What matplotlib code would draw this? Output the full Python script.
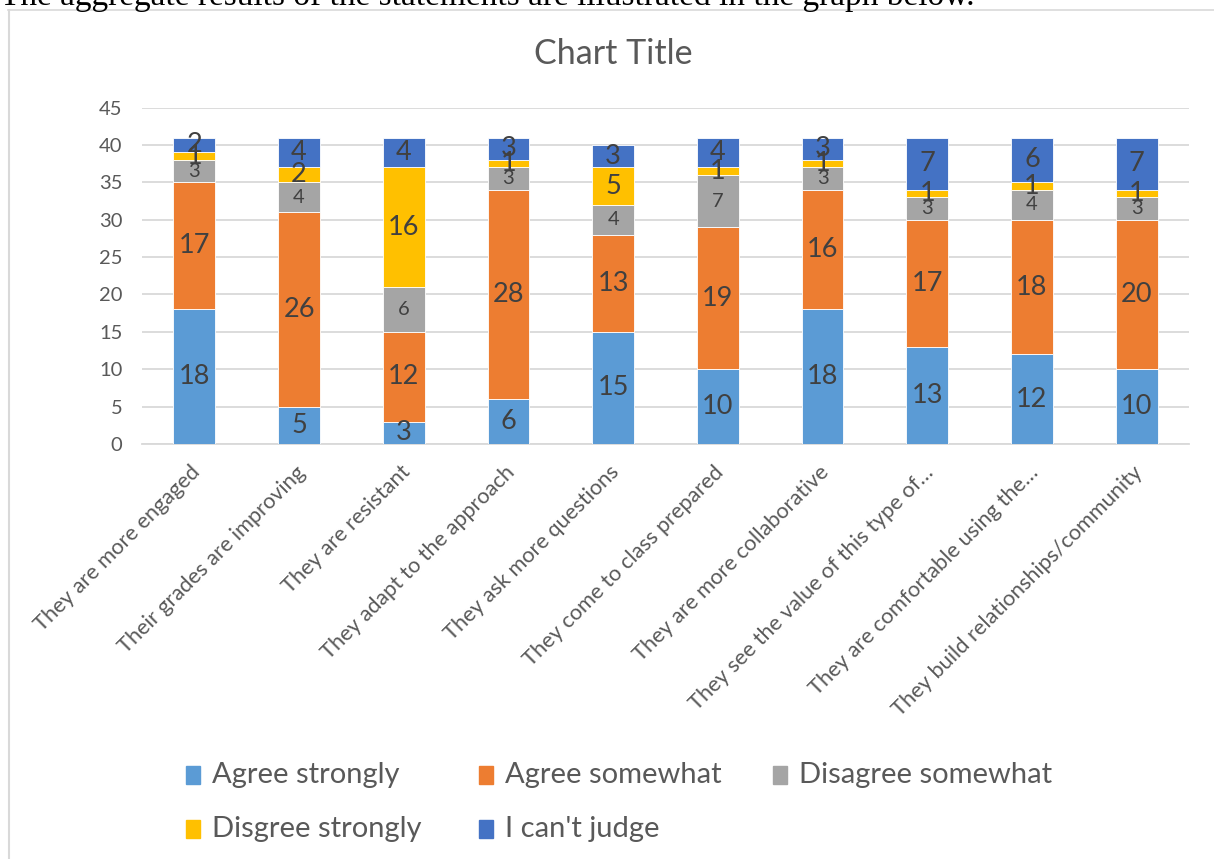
import matplotlib
matplotlib.use("Agg")
import matplotlib.pyplot as plt
from matplotlib.patches import Rectangle
from matplotlib.lines import Line2D
from matplotlib.transforms import ScaledTranslation
import numpy as np

W, H = 1214, 859

categories = [
    "They are more engaged",
    "Their grades are improving",
    "They are resistant",
    "They adapt to the approach",
    "They ask more questions",
    "They come to class prepared",
    "They are more collaborative",
    "They see the value of this type of\u2026",
    "They are comfortable using the\u2026",
    "They build relationships/community",
]
series_names = ["Agree strongly", "Agree somewhat", "Disagree somewhat",
                "Disgree strongly", "I can't judge"]
agree_strongly = [18, 5, 3, 6, 15, 10, 18, 13, 12, 10]
agree_somewhat = [17, 26, 12, 28, 13, 19, 16, 17, 18, 20]
disagree_somewhat = [3, 4, 6, 3, 4, 7, 3, 3, 4, 3]
disagree_strongly = [1, 2, 16, 1, 5, 1, 1, 1, 1, 1]
cant_judge = [2, 4, 4, 3, 3, 4, 3, 7, 6, 7]

colors = ["#5B9BD5", "#ED7D31", "#A5A5A5", "#FFC000", "#4472C4"]
label_sizes = [19.5, 19.5, 14.5, 19.5, 19.5]

FONT = "Lato"
TXT = "#595959"
LBL = "#404040"


def fx(px):
    return px / W


def fy(py):
    return 1 - py / H


def main():
    fig = plt.figure(figsize=(W / 100, H / 100), dpi=100)

    # intro sentence sitting above the chart (mostly cut off)
    fig.text(fx(0), fy(4.7), "The aggregate results of the statements are illustrated in the graph below.",
             family="Liberation Serif", fontsize=24, color="black", ha="left", va="baseline")

    # chart frame
    fig.add_artist(Line2D([fx(8), fx(W + 2)], [fy(9.5), fy(9.5)], color="#D9D9D9", lw=1.2))
    fig.add_artist(Line2D([fx(9), fx(9)], [fy(9.5), fy(H + 2)], color="#D9D9D9", lw=1.5))

    ax = fig.add_axes([fx(142), fy(444), fx(1189 - 142), (444 - 107.6) / H])
    x = np.arange(len(categories))
    series = [agree_strongly, agree_somewhat, disagree_somewhat, disagree_strongly, cant_judge]
    bottom = np.zeros(len(categories))
    for vals, color, name, size in zip(series, colors, series_names, label_sizes):
        vals = np.array(vals, dtype=float)
        bars = ax.bar(x, vals, width=0.4, bottom=bottom, color=color, edgecolor="white",
                      linewidth=0.6, label=name, zorder=3)
        ax.bar_label(bars, labels=[str(int(v)) for v in vals], label_type="center",
                     fontsize=size, color=LBL, family=FONT, zorder=4)
        bottom += vals

    ax.set_xlim(-0.5, len(categories) - 0.5)
    ax.set_ylim(0, 45)
    ax.set_yticks(range(0, 46, 5))
    ax.yaxis.grid(True, color="#D9D9D9", lw=1.3)
    ax.set_axisbelow(True)
    for s in ["top", "right", "left"]:
        ax.spines[s].set_visible(False)
    ax.spines["bottom"].set_color("#D9D9D9")
    ax.spines["bottom"].set_linewidth(1.3)
    ax.tick_params(length=0, colors=TXT)
    ax.tick_params(axis="y", pad=14, labelsize=14.5)
    ax.tick_params(axis="x", pad=13)
    ax.set_xticks(x)
    ax.set_xticklabels(categories, rotation=45, ha="right", va="top",
                       rotation_mode="anchor", family=FONT, fontsize=15.7, color=TXT)
    shift = ScaledTranslation(-4 / 100, 0, fig.dpi_scale_trans)
    for t in ax.get_xticklabels():
        t.set_transform(t.get_transform() + shift)
    for t in ax.get_yticklabels():
        t.set_family(FONT)

    fig.text(fx(613), fy(54), "Chart Title", family=FONT, fontsize=24.5, color=TXT,
             ha="center", va="center")

    # legend laid out in Excel's grid: three entries, then two
    legend_pos = [(186, 775), (479, 775), (773, 775), (186, 829), (479, 829)]
    for (px, py), name, color in zip(legend_pos, series_names, colors):
        fig.add_artist(Rectangle((fx(px), fy(py + 9)), 14 / W, 18 / H, color=color,
                                 transform=fig.transFigure))
        fig.text(fx(px + 26), fy(py), name, family=FONT, fontsize=21, color=TXT,
                 ha="left", va="center")

    fig.savefig("out.png", dpi=100)


if __name__ == "__main__":
    main()
